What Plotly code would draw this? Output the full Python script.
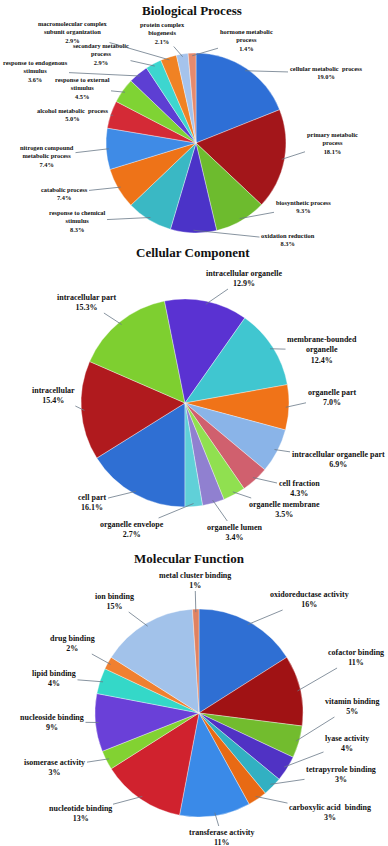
import math
import plotly.graph_objects as go

# ---------------- DATA ----------------
bp_labels = ["cellular metabolic  process", "primary metabolic<br>process", "biosynthetic process",
             "oxidation reduction", "response to chemical<br>stimulus", "catabolic process",
             "nitrogen compound<br>metabolic process", "alcohol metabolic  process",
             "response to external<br>stimulus", "response to endogenous<br>stimulus",
             "secondary metabolic<br>process", "macromolecular complex<br>subunit organization",
             "protein complex<br>biogenesis", "hormone metabolic<br>process"]
bp_values = [19.0, 18.1, 9.3, 8.3, 8.3, 7.4, 7.4, 5.0, 4.5, 3.6, 2.9, 2.9, 2.1, 1.4]
bp_text = ["19.0%", "18.1%", "9.3%", "8.3%", "8.3%", "7.4%", "7.4%", "5.0%", "4.5%", "3.6%",
           "2.9%", "2.9%", "2.1%", "1.4%"]

cc_labels = ["cell part", "intracellular", "intracellular part", "intracellular organelle",
             "membrane-bounded<br>organelle", "organelle part", "intracellular organelle part",
             "cell fraction", "organelle membrane", "organelle lumen", "organelle envelope"]
cc_values = [16.1, 15.4, 15.3, 12.9, 12.4, 7.0, 6.9, 4.3, 3.5, 3.4, 2.7]
cc_text = ["16.1%", "15.4%", "15.3%", "12.9%", "12.4%", "7.0%", "6.9%", "4.3%", "3.5%", "3.4%", "2.7%"]

mf_labels = ["oxidoreductase activity", "cofactor binding", "vitamin binding", "lyase activity",
             "tetrapyrrole binding", "carboxylic acid  binding", "transferase activity",
             "nucleotide binding", "isomerase activity", "nucleoside binding", "lipid binding",
             "drug binding", "ion binding", "metal cluster binding"]
mf_values = [16, 11, 5, 4, 3, 3, 11, 13, 3, 9, 4, 2, 15, 1]
mf_text = ["16%", "11%", "5%", "4%", "3%", "3%", "11%", "13%", "3%", "9%", "4%", "2%", "15%", "1%"]

titles = ["Biological Process", "Cellular Component", "Molecular Function"]

# ---------------- STYLE / LAYOUT ----------------
W, H = 388, 846
bp_colors = ["#2E6FD6", "#A3161A", "#6DBB2E", "#4B33C8", "#3AB8C4", "#EE7318", "#3F8BE6",
             "#D42A36", "#7FD334", "#5D3FD3", "#3DD6CF", "#F08224", "#A5C3EC", "#E58A6E"]
cc_colors = ["#2F6FD3", "#B01A1E", "#7ECF30", "#5A32D2", "#40C6D0", "#F07318", "#8AB4E8",
             "#D0606E", "#90E050", "#9080D0", "#60D0D8"]
mf_colors = ["#2F6FD3", "#A01214", "#72BC2E", "#5032C4", "#32B0C2", "#E86A14", "#3A8AE8",
             "#D0222E", "#82D232", "#6A40D8", "#34D8C8", "#F08030", "#A2C2EA", "#E08262"]

# pie geometry in pixels: (cx, cy, r, rotation)
geo = [(196, 143, 90, 0), (185, 403, 104, 180), (199, 713, 104, 0)]
title_pos = [(192, 11), (193, 252), (189, 558)]
label_font = [6.4, 8, 8]

bp_pos = [(326, 73), (332, 143), (303, 207), (288, 240), (77, 221), (64, 193), (47, 156),
          (73, 114), (82, 88), (35, 71), (101, 54), (73, 32), (162, 33), (246, 40)]
cc_pos = [(92, 502), (53, 395), (87, 302), (244, 278), (322, 350), (332, 397), (338, 459),
          (299, 488), (284, 509), (235, 532), (132, 529)]
mf_pos = [(309, 599), (356, 657), (352, 706), (347, 743), (341, 774), (330, 812), (222, 837),
          (80, 813), (55, 767), (52, 722), (54, 678), (72, 643), (114, 601), (195, 580)]

FONT = "Liberation Serif"
fig = go.Figure()
annotations = []
sets = [(bp_labels, bp_values, bp_text, bp_colors, bp_pos),
        (cc_labels, cc_values, cc_text, cc_colors, cc_pos),
        (mf_labels, mf_values, mf_text, mf_colors, mf_pos)]

for k, (labs, vals, txt, cols, pos) in enumerate(sets):
    cx, cy, r, rot = geo[k]
    fig.add_trace(go.Pie(
        labels=[l.replace("<br>", " ") for l in labs], values=vals, sort=False,
        direction="clockwise", rotation=rot, textinfo="none", hoverinfo="label+percent",
        marker=dict(colors=cols, line=dict(color="rgba(255,255,255,0.6)", width=0.6)),
        domain=dict(x=[(cx - r) / W, (cx + r) / W], y=[1 - (cy + r) / H, 1 - (cy - r) / H]),
        showlegend=False))
    total = sum(vals)
    cum = 0.0
    for i, v in enumerate(vals):
        ang = math.radians(rot + 360.0 * (cum + v / 2.0) / total)
        cum += v
        tx = cx + r * 0.97 * math.sin(ang)
        ty = cy - r * 0.97 * math.cos(ang)
        lx, ly = pos[i]
        annotations.append(dict(
            x=tx / W, y=1 - ty / H, xref="paper", yref="paper",
            ax=lx - tx, ay=ly - ty, axref="pixel", ayref="pixel",
            xanchor="center", yanchor="middle",
            text=f"{labs[i]}<br>{txt[i]}", showarrow=True, arrowhead=0, arrowwidth=0.8,
            arrowcolor="#6a7888", standoff=0,
            font=dict(family=FONT, size=label_font[k], color="#111111", weight="bold"),
            align="center"))
    tx, ty = title_pos[k]
    annotations.append(dict(x=tx / W, y=1 - ty / H, xref="paper", yref="paper",
                            xanchor="center", yanchor="middle",
                            text=f"<b>{titles[k]}</b>", showarrow=False,
                            font=dict(family=FONT, size=13, color="#111111")))

fig.update_layout(width=W, height=H, margin=dict(l=0, r=0, t=0, b=0),
                  paper_bgcolor="white", plot_bgcolor="white", annotations=annotations)
fig.write_html("out.html", config={"displayModeBar": False},
               post_script="document.body.style.margin='0px';document.body.style.overflow='hidden';")
